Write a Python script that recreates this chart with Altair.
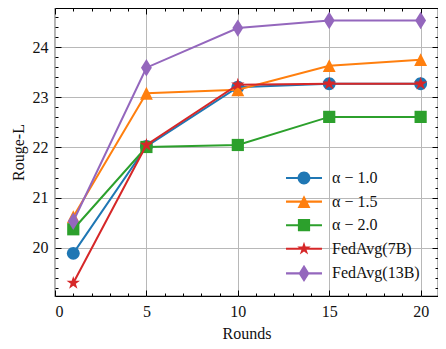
import math
import altair as alt
import pandas as pd

# ---- data ----
rounds = [1, 5, 10, 15, 20]
series_names = ["α − 1.0", "α − 1.5", "α − 2.0", "FedAvg(7B)", "FedAvg(13B)"]
alpha_10 = [19.89, 22.02, 23.20, 23.27, 23.27]
alpha_15 = [20.62, 23.08, 23.15, 23.63, 23.75]
alpha_20 = [20.37, 22.01, 22.05, 22.61, 22.61]
fedavg_7b = [19.30, 22.05, 23.25, 23.27, 23.27]
fedavg_13b = [20.53, 23.59, 24.38, 24.53, 24.53]
colors = ["#1f77b4", "#ff7f0e", "#2ca02c", "#d62728", "#9467bd"]

x_major = [0, 5, 10, 15, 20]
x_minor = [v for v in range(0, 21) if v % 5 != 0]
y_major = [20, 21, 22, 23, 24]
y_minor = [round(19.2 + 0.2 * i, 1) for i in range(0, 28) if abs((19.2 + 0.2 * i) - round(19.2 + 0.2 * i)) > 1e-6]

all_values = [alpha_10, alpha_15, alpha_20, fedavg_7b, fedavg_13b]
rows = []
for name, vals in zip(series_names, all_values):
    for r, v in zip(rounds, vals):
        rows.append({"series": name, "round": r, "value": v})
df = pd.DataFrame(rows)

FONT = "Liberation Serif"


# ---- marker shapes (unit box paths) ----
def star_path(outer=1.0, inner=0.382):
    pts = []
    for i in range(10):
        ang = -math.pi / 2 + i * math.pi / 5
        rad = outer if i % 2 == 0 else inner
        pts.append((rad * math.cos(ang), rad * math.sin(ang)))
    return "M" + "L".join(f"{x:.3f},{y:.3f}" for x, y in pts) + "Z"


circle = "M1,0A1,1,0,1,1,-1,0A1,1,0,1,1,1,0Z"
triangle = "M0,-1L1,1L-1,1Z"
square = "M-0.95,-0.95H0.95V0.95H-0.95Z"
star = star_path(1.1, 0.42)
thin_diamond = "M0,-1.35L0.85,0L0,1.35L-0.85,0Z"
shapes = [circle, triangle, square, star, thin_diamond]
line_seg = "M-2.8,-0.16H2.8V0.16H-2.8Z"
legend_shapes = [line_seg + s for s in shapes]

MSIZE = 165

xscale = alt.Scale(domain=[0, 20.95], nice=False, zero=False)
yscale = alt.Scale(domain=[19.04, 24.78], nice=False, zero=False)

layers = []
# series: line + markers, one series at a time (matplotlib draw order)
for name, col, shp in zip(series_names, colors, shapes):
    base = alt.Chart(df).transform_filter(alt.datum.series == name)
    ln = base.mark_line(color=col, strokeWidth=2).encode(
        x=alt.X("round:Q", scale=xscale, axis=None),
        y=alt.Y("value:Q", scale=yscale, axis=None),
    )
    pt = base.mark_point(shape=shp, size=MSIZE, filled=True, color=col, opacity=1, strokeWidth=0).encode(
        x=alt.X("round:Q", scale=xscale, axis=None),
        y=alt.Y("value:Q", scale=yscale, axis=None),
    )
    layers += [ln, pt]


def axis_layer(xaxis, yaxis):
    return alt.Chart(df).mark_point(opacity=0).encode(
        x=alt.X("round:Q", scale=xscale, axis=xaxis),
        y=alt.Y("value:Q", scale=yscale, axis=yaxis),
    )


common = dict(domain=False, labelFont=FONT, titleFont=FONT)
# labels, titles and grid
grid_layer = axis_layer(
    alt.Axis(orient="bottom", values=x_major, grid=True, gridColor="#b8b8b8", gridWidth=1,
             ticks=False, tickSize=0, labelPadding=7, labelFontSize=16, labelColor="#111",
             title="Rounds", titleFontSize=16, titleFontWeight="normal", titlePadding=6,
             titleColor="#111", format="d", **common),
    alt.Axis(orient="left", values=y_major, grid=True, gridColor="#b8b8b8", gridWidth=1,
             ticks=False, tickSize=0, labelPadding=7, labelFontSize=16, labelColor="#111",
             title="Rouge-L", titleFontSize=16, titleFontWeight="normal", titlePadding=6,
             titleColor="#111", format="d", **common),
)


def tick_axis(orient, values, size):
    return alt.Axis(orient=orient, values=values, grid=False, labels=False, ticks=True,
                    tickSize=size, offset=-size, tickColor="black", tickWidth=1,
                    domain=False, title=None)


tick_layers = [
    axis_layer(tick_axis("bottom", x_major, 6), tick_axis("left", y_major, 6)),
    axis_layer(tick_axis("top", x_major, 6), tick_axis("right", y_major, 6)),
    axis_layer(tick_axis("bottom", x_minor, 3), tick_axis("left", y_minor, 3)),
    axis_layer(tick_axis("top", x_minor, 3), tick_axis("right", y_minor, 3)),
]

legend_layer = alt.Chart(df).mark_point(filled=True, opacity=0, size=MSIZE).encode(
    x=alt.X("round:Q", scale=xscale, axis=None),
    y=alt.Y("value:Q", scale=yscale, axis=None),
    color=alt.Color("series:N", scale=alt.Scale(domain=series_names, range=colors),
                    legend=alt.Legend(title=None, orient="none", legendX=241, legendY=162,
                                      labelFont=FONT, labelFontSize=16, labelColor="#111",
                                      symbolOpacity=1, symbolSize=MSIZE, symbolStrokeWidth=0,
                                      labelOffset=20, rowPadding=7.6, padding=0,
                                      labelLimit=300)),
    shape=alt.Shape("series:N", scale=alt.Scale(domain=series_names, range=legend_shapes),
                    legend=None),
)

chart = alt.layer(grid_layer, *layers, *tick_layers, legend_layer).resolve_axis(
    x="independent", y="independent"
).properties(
    width=383, height=288,
    padding={"left": 47, "top": 0, "right": 0, "bottom": 45},
    autosize=alt.AutoSizeParams(type="none"),
).configure_view(stroke="black", strokeWidth=1.2)

chart.save("out.html", embed_options={"renderer": "svg", "actions": False})
